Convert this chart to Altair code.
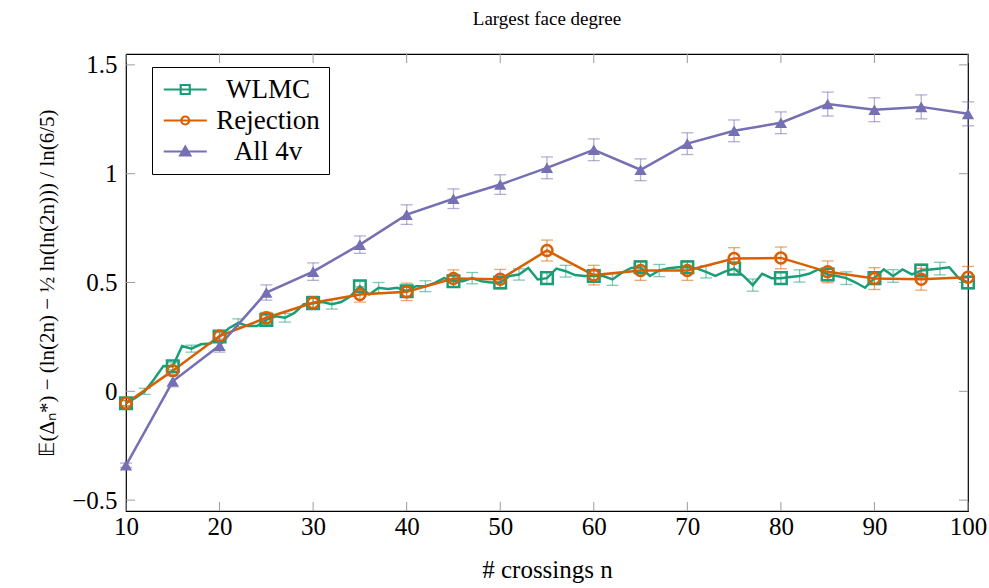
import altair as alt
import pandas as pd

series_names = ["WLMC", "Rejection", "All 4v"]
series_colors = ["#1b9e77", "#d95f02", "#7570b3"]

# WLMC: a value at every n, markers every 5, error bars at some n
wlmc_n = list(range(10, 101))
wlmc_mean = [
    -0.055, -0.03, 0.0, 0.055, 0.116, 0.115, 0.208, 0.196, 0.216, 0.22,
    0.252, 0.29, 0.315, 0.30, 0.30, 0.328, 0.345, 0.338, 0.36, 0.40,
    0.405, 0.41, 0.40, 0.41, 0.437, 0.483, 0.445, 0.476, 0.47, 0.476,
    0.46, 0.483, 0.483, 0.498, 0.52, 0.506, 0.506, 0.52, 0.506, 0.50,
    0.50, 0.53, 0.537, 0.567, 0.514, 0.52, 0.564, 0.552, 0.534, 0.53,
    0.53, 0.53, 0.514, 0.545, 0.567, 0.57, 0.53, 0.555, 0.565, 0.57,
    0.57, 0.565, 0.549, 0.53, 0.55, 0.564, 0.53, 0.488, 0.54, 0.52,
    0.52, 0.525, 0.53, 0.54, 0.56, 0.537, 0.53, 0.52, 0.50, 0.476,
    0.52, 0.56, 0.53, 0.56, 0.537, 0.555, 0.56, 0.564, 0.57, 0.52,
    0.50,
]
wlmc_err_n = [10, 12, 15, 17, 20, 22, 25, 27, 30, 32, 35, 37, 40, 42, 45, 47, 50, 52, 55,
              57, 60, 62, 65, 67, 70, 72, 75, 77, 80, 82, 85, 87, 90, 92, 95, 97, 100]
wlmc_err = [0.012, 0.014, 0.016, 0.016, 0.018, 0.018, 0.02, 0.02, 0.022, 0.022, 0.024,
            0.024, 0.025, 0.025, 0.025, 0.026, 0.026, 0.026, 0.027, 0.027, 0.027, 0.027,
            0.028, 0.028, 0.028, 0.028, 0.028, 0.028, 0.028, 0.028, 0.029, 0.029, 0.029,
            0.029, 0.029, 0.029, 0.029]

n5 = list(range(10, 101, 5))
rej_mean = [-0.055, 0.095, 0.254, 0.338, 0.407, 0.445, 0.457, 0.518, 0.515, 0.647,
            0.534, 0.555, 0.555, 0.61, 0.613, 0.549, 0.518, 0.515, 0.524]
rej_err = [0.012, 0.02, 0.02, 0.025, 0.03, 0.035, 0.04, 0.04, 0.045, 0.048,
           0.045, 0.045, 0.045, 0.05, 0.05, 0.05, 0.05, 0.05, 0.05]
all4v_mean = [-0.34, 0.046, 0.21, 0.454, 0.55, 0.674, 0.812, 0.885, 0.95, 1.027,
              1.11, 1.018, 1.138, 1.197, 1.234, 1.32, 1.294, 1.307, 1.275]
all4v_err = [0.01, 0.025, 0.03, 0.035, 0.04, 0.04, 0.045, 0.045, 0.045, 0.05,
             0.05, 0.05, 0.05, 0.05, 0.05, 0.055, 0.055, 0.055, 0.055]

x_ticks = [10, 20, 30, 40, 50, 60, 70, 80, 90, 100]
y_ticks = [-0.5, 0, 0.5, 1, 1.5]

W, H = 842, 457
FONT = "Liberation Serif"

# ---- tables ----
lines_df = pd.concat([
    pd.DataFrame({"n": wlmc_n, "value": wlmc_mean, "series": "WLMC"}),
    pd.DataFrame({"n": n5, "value": rej_mean, "series": "Rejection"}),
    pd.DataFrame({"n": n5, "value": all4v_mean, "series": "All 4v"}),
], ignore_index=True)

wl_lookup = dict(zip(wlmc_n, wlmc_mean))
wl_mark_df = pd.DataFrame({"n": n5, "value": [wl_lookup[n] for n in n5], "series": "WLMC"})
rej_mark_df = pd.DataFrame({"n": n5, "value": rej_mean, "series": "Rejection"})
all_mark_df = pd.DataFrame({"n": n5, "value": all4v_mean, "series": "All 4v"})

err_df = pd.concat([
    pd.DataFrame({"n": wlmc_err_n,
                  "lo": [wl_lookup[n] - e for n, e in zip(wlmc_err_n, wlmc_err)],
                  "hi": [wl_lookup[n] + e for n, e in zip(wlmc_err_n, wlmc_err)],
                  "series": "WLMC"}),
    pd.DataFrame({"n": n5, "lo": [m - e for m, e in zip(rej_mean, rej_err)],
                  "hi": [m + e for m, e in zip(rej_mean, rej_err)], "series": "Rejection"}),
    pd.DataFrame({"n": n5, "lo": [m - e for m, e in zip(all4v_mean, all4v_err)],
                  "hi": [m + e for m, e in zip(all4v_mean, all4v_err)], "series": "All 4v"}),
], ignore_index=True)

xt_df = pd.DataFrame({"n": x_ticks})
yt_df = pd.DataFrame({"value": y_ticks})
legend_df = pd.DataFrame({"series": series_names})

# ---- encodings ----
x_scale = alt.Scale(domain=[10, 100], nice=False, zero=False)
y_scale = alt.Scale(domain=[-0.55, 1.55], nice=False, zero=False)

x_axis = alt.Axis(values=x_ticks, ticks=False, domain=False, grid=False, labelFlush=False,
                  labelFont=FONT, labelFontSize=25, labelColor="black", labelPadding=3,
                  title="# crossings n", titleFont=FONT, titleFontSize=25,
                  titleFontWeight="normal", titleColor="black", titlePadding=18)
y_axis = alt.Axis(values=y_ticks, ticks=False, domain=False, grid=False, format="~g",
                  labelFlush=False,
                  labelFont=FONT, labelFontSize=25, labelColor="black", labelPadding=9,
                  title="𝔼(Δₙ*) − (ln(2n) − ½ ln(ln(2n))) / ln(6/5)",
                  titleFont=FONT, titleFontSize=21, titleFontWeight="normal",
                  titleColor="black", titlePadding=14)

X = alt.X("n:Q", scale=x_scale, axis=x_axis)
Y = alt.Y("value:Q", scale=y_scale, axis=y_axis)
# data colour scale (listed in reverse order so it is kept apart from the legend scales)
color = alt.Color("series:N",
                  scale=alt.Scale(domain=series_names[::-1], range=series_colors[::-1]),
                  legend=None)

# ---- layers ----
err_rule = alt.Chart(err_df).mark_rule(strokeWidth=1.3, opacity=0.55).encode(
    x=X, y=alt.Y("lo:Q", scale=y_scale, axis=y_axis), y2="hi:Q", color=color)
err_cap_lo = alt.Chart(err_df).mark_tick(orient="horizontal", size=12, thickness=1.3,
                                         opacity=0.55).encode(
    x=X, y=alt.Y("lo:Q", scale=y_scale, axis=y_axis), color=color)
err_cap_hi = alt.Chart(err_df).mark_tick(orient="horizontal", size=12, thickness=1.3,
                                         opacity=0.55).encode(
    x=X, y=alt.Y("hi:Q", scale=y_scale, axis=y_axis), color=color)

lines = alt.Chart(lines_df).mark_line(strokeWidth=2.5).encode(
    x=X, y=Y, color=color, detail="series:N")

wl_marks = alt.Chart(wl_mark_df).mark_point(shape="square", filled=False, size=135,
                                            strokeWidth=2.5, opacity=1).encode(
    x=X, y=Y, color=color)
rej_marks = alt.Chart(rej_mark_df).mark_point(shape="circle", filled=False, size=120,
                                              strokeWidth=2.5, opacity=1).encode(
    x=X, y=Y, color=color)
all_marks = alt.Chart(all_mark_df).mark_point(shape="triangle-up", filled=True, size=150,
                                              opacity=1).encode(
    x=X, y=Y, color=color)

TICK_COLOR = "#9a9a9a"
TL = 9
xt_bottom = alt.Chart(xt_df).mark_rule(color=TICK_COLOR, strokeWidth=1).encode(
    x=X, y=alt.value(H), y2=alt.value(H - TL))
xt_top = alt.Chart(xt_df).mark_rule(color=TICK_COLOR, strokeWidth=1).encode(
    x=X, y=alt.value(0), y2=alt.value(TL))
yt_left = alt.Chart(yt_df).mark_rule(color=TICK_COLOR, strokeWidth=1).encode(
    y=Y, x=alt.value(0), x2=alt.value(TL))
yt_right = alt.Chart(yt_df).mark_rule(color=TICK_COLOR, strokeWidth=1).encode(
    y=Y, x=alt.value(W), x2=alt.value(W - TL))

# legend-only layer (symbols combine a line segment with the marker)
SQ = "M-1,0H3M0.58,-0.42H1.42V0.42H0.58Z"
CI = "M-1,0H3M1.37,0A0.37,0.37,0,1,1,0.63,0A0.37,0.37,0,1,1,1.37,0Z"
TR = "M-1,0H3M1,-0.45L1.47,0.37L0.53,0.37Z"
leg = alt.Legend(title=None, orient="none", legendX=26, legendY=13,
                 strokeColor="black", fillColor="white", padding=9,
                 labelFont=FONT, labelFontSize=27, labelColor="black",
                 labelAlign="center", labelOffset=80, labelLimit=300,
                 symbolSize=462, symbolStrokeWidth=2.2, symbolOpacity=1,
                 rowPadding=3, cornerRadius=0)
legend_layer = alt.Chart(legend_df).mark_point(strokeWidth=2.2, opacity=0).encode(
    shape=alt.Shape("series:N", scale=alt.Scale(domain=series_names, range=[SQ, CI, TR]),
                    legend=leg),
    stroke=alt.Stroke("series:N", scale=alt.Scale(domain=series_names, range=series_colors),
                      legend=leg),
    fill=alt.Fill("series:N", scale=alt.Scale(domain=series_names,
                                              range=["transparent", "transparent", "#7570b3"]),
                  legend=leg),
)

chart = alt.layer(
    xt_bottom, xt_top, yt_left, yt_right,
    err_rule, err_cap_lo, err_cap_hi,
    lines, wl_marks, rej_marks, all_marks,
    legend_layer,
).properties(
    width=W, height=H,
    title=alt.Title("Largest face degree", font=FONT, fontSize=19, fontWeight="normal",
                    color="black", anchor="middle", offset=24),
    autosize=alt.AutoSizeParams(type="none"),
    padding={"left": 126, "top": 54, "right": 21, "bottom": 77},
    background="white",
).configure_view(
    stroke="black", strokeWidth=1.2
)

chart.save("out.html", embed_options={"renderer": "svg", "actions": False})
